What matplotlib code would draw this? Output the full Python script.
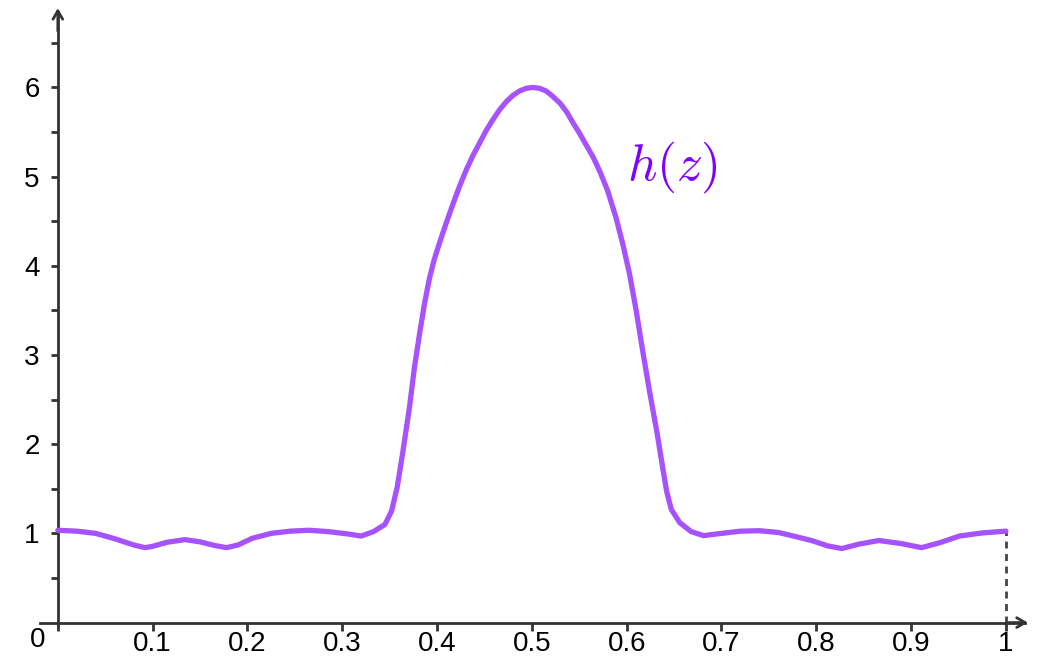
import numpy as np
import matplotlib.pyplot as plt

plt.rcParams['font.family'] = ['Liberation Sans', 'DejaVu Sans']
plt.rcParams['mathtext.fontset'] = 'cm'

# curve
z = [0.00, 0.02, 0.04, 0.06, 0.08, 0.092, 0.10, 0.115, 0.134, 0.15, 0.165, 0.178,
     0.19, 0.205, 0.225, 0.245, 0.265, 0.285, 0.305, 0.32, 0.333, 0.345, 0.352,
     0.358, 0.364, 0.371, 0.376, 0.382, 0.387, 0.392, 0.397, 0.403, 0.41, 0.417,
     0.424, 0.431, 0.438, 0.445, 0.452, 0.459, 0.466, 0.473, 0.48, 0.487, 0.494,
     0.501, 0.508, 0.515, 0.522, 0.53, 0.537, 0.543, 0.55, 0.557, 0.565, 0.572,
     0.58, 0.589, 0.596, 0.603, 0.61, 0.617, 0.624, 0.632, 0.637, 0.642, 0.647,
     0.656, 0.668, 0.681, 0.70, 0.72, 0.74, 0.76, 0.776, 0.795, 0.812, 0.827,
     0.845, 0.866, 0.89, 0.911, 0.93, 0.951, 0.975, 1.00]
h = [1.035, 1.025, 1.00, 0.94, 0.87, 0.84, 0.855, 0.90, 0.93, 0.905, 0.865, 0.84,
     0.87, 0.945, 1.00, 1.025, 1.035, 1.02, 0.995, 0.97, 1.02, 1.10, 1.25,
     1.52, 1.92, 2.42, 2.85, 3.27, 3.59, 3.86, 4.07, 4.27, 4.49, 4.70,
     4.90, 5.08, 5.24, 5.38, 5.52, 5.64, 5.75, 5.84, 5.91, 5.96, 5.99,
     6.00, 5.99, 5.96, 5.90, 5.82, 5.72, 5.61, 5.49, 5.36, 5.21, 5.05,
     4.84, 4.53, 4.24, 3.91, 3.50, 3.04, 2.60, 2.13, 1.80, 1.48, 1.27,
     1.12, 1.02, 0.975, 1.00, 1.025, 1.03, 1.01, 0.97, 0.92, 0.86, 0.83,
     0.88, 0.92, 0.885, 0.84, 0.895, 0.97, 1.005, 1.025]

xticks = [0.1, 0.2, 0.3, 0.4, 0.5, 0.6, 0.7, 0.8, 0.9, 1.0]
xlabels = ['0.1', '0.2', '0.3', '0.4', '0.5', '0.6', '0.7', '0.8', '0.9', '1']
yticks = [1, 2, 3, 4, 5, 6]

axc = '#333333'

fig = plt.figure(figsize=(10.59, 6.67), dpi=100)
ax = fig.add_axes([0, 0, 1, 1])
x0, x1 = -0.061, 1.056
y0, y1 = -0.498, 6.98
ax.set_xlim(x0, x1)
ax.set_ylim(y0, y1)

for s in ['top', 'right']:
    ax.spines[s].set_visible(False)
ax.spines['left'].set_position(('data', 0))
ax.spines['bottom'].set_position(('data', 0))
ax.spines['left'].set_bounds(-0.03, 6.85)
ax.spines['bottom'].set_bounds(-0.019, 1.02)
for s in ['left', 'bottom']:
    ax.spines[s].set_color(axc)
    ax.spines[s].set_linewidth(2)

# arrow heads
ax.annotate('', xy=(1.026, 0), xytext=(1.0, 0),
            arrowprops=dict(arrowstyle='->,head_width=0.35,head_length=0.6',
                            lw=2, color=axc))
ax.annotate('', xy=(0, 6.92), xytext=(0, 6.6),
            arrowprops=dict(arrowstyle='->,head_width=0.35,head_length=0.6',
                            lw=2, color=axc))

ax.set_xticks([0] + xticks)
ax.set_xticklabels([''] + xlabels)
ax.set_yticks(yticks)
ax.set_yticks(np.arange(0.5, 7, 1), minor=True)
ax.tick_params(axis='x', direction='out', length=6, width=2, color=axc,
               labelsize=20, pad=0)
ax.tick_params(axis='y', which='both', direction='out', length=5, width=2,
               color=axc, labelsize=20, pad=8)
ax.text(-0.021, -0.19, '0', fontsize=20, ha='center', va='center')

ax.plot(z, h, color='#a652ff', lw=3.8, solid_capstyle='round',
        solid_joinstyle='round', zorder=3)
ax.plot([1, 1], [0, h[-1]], color='#444444', lw=2, ls=(0, (2.5, 2)))

ax.text(0.648, 5.11, r'$h(z)$', color='#7f00ff', fontsize=37,
        ha='center', va='center')

fig.savefig('out.png', dpi=100)
